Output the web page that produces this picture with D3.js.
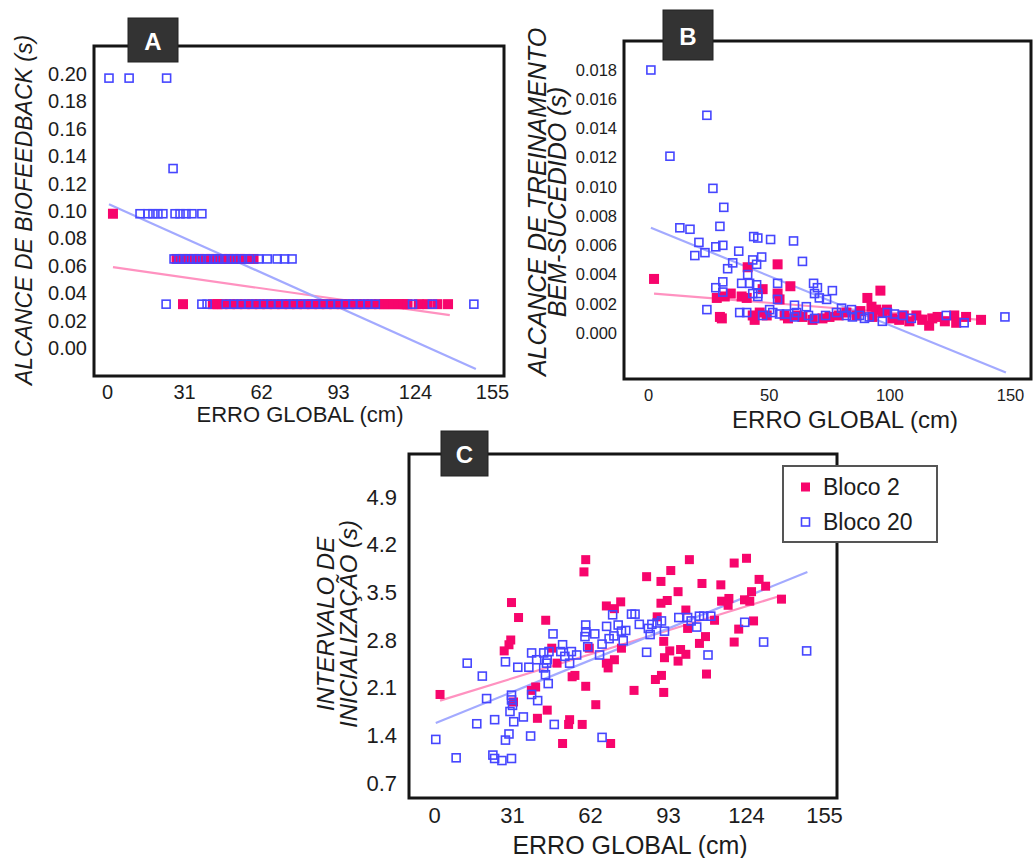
<!DOCTYPE html>
<html>
<head>
<meta charset="utf-8">
<script src="https://cdn.jsdelivr.net/npm/d3@7"></script>
<style>
  body { margin: 0; background: #fff; }
  svg { display: block; font-family: "Liberation Sans", Arial, sans-serif; }
</style>
</head>
<body>
<svg id="chart" width="1034" height="858"></svg>
<script>
// ---- Data ----

// Panel A: values fall on five discrete levels
const A_LEVELS = [0.197, 0.131, 0.098, 0.065, 0.032];
const A_BLOCO2_X = [
  [],
  [],
  [2.4],
  [28, 30.5, 32.5, 35, 37, 39.5, 42, 44, 46.5, 49, 51, 53.5, 55.5, 59],
  [30.6, 42.6, 44.5, 46.5, 49.5, 52.5, 55.5, 58.5, 61.5, 64.5, 67.5, 70.5, 73.5, 76.5, 79.5, 82.5,
   85.5, 88.5, 91.5, 94.5, 97.5, 100.5, 103.5, 106.5, 109.5, 111.5, 113.5, 115.5, 117.5, 119.5, 121,
   125.5, 129, 133, 137.3]
];
const A_BLOCO20_X = [
  [0.8, 8.9, 24],
  [26.6],
  [13.3, 16.5, 18.5, 20.5, 22.5, 27.4, 29.4, 31.8, 34.2, 38.2],
  [27, 29, 31.5, 33.5, 36, 38, 40.5, 43, 45, 47.5, 50, 52, 54.5, 57, 61, 64.5, 68.5, 71.5, 74.5],
  [23.8, 38.2, 40.3, 48, 51, 54, 57, 60, 63, 66, 69, 72, 75, 78, 81, 84, 87, 90, 93, 96, 99, 102,
   105, 108, 123, 131, 147.7]
];
const A_FIT_BLOCO2 = [[2.4, 0.059], [138, 0.024]];
const A_FIT_BLOCO20 = [[0.8, 0.105], [148.5, -0.0153]];
const A_X_TICKS = [0, 31, 62, 93, 124, 155];
const A_Y_TICKS = [0, 0.02, 0.04, 0.06, 0.08, 0.10, 0.12, 0.14, 0.16, 0.18, 0.20];

// Panel B
const B_BLOCO2 = [
  [2.5, 0.0037], [30.6, 0.0010], [41.3, 0.0045], [53.7, 0.0047], [59.0, 0.0032], [28.5, 0.0024],
  [31.8, 0.0025], [34.3, 0.0027], [38.8, 0.0025], [40.9, 0.0024], [47.5, 0.0030], [53.7, 0.0027],
  [54.5, 0.0023], [44.2, 0.0009], [43.4, 0.0012], [46.3, 0.0014], [49.2, 0.0012], [56.6, 0.0012],
  [64.0, 0.0011], [68.2, 0.0009], [72.3, 0.0010], [75.2, 0.0011], [90.9, 0.0024], [96.3, 0.0029],
  [92.6, 0.0018], [94.6, 0.0016], [97.1, 0.0014], [101.2, 0.0010], [104.1, 0.0009], [108.3, 0.0008],
  [111.2, 0.0012], [113.6, 0.0009], [116.5, 0.0005], [117.8, 0.0010], [126.9, 0.0012], [127.7, 0.0007],
  [131.8, 0.0011], [138.0, 0.0009], [93.0, 0.0011], [86.4, 0.0012], [82.2, 0.0014], [29.8, 0.0011],
  [58.0, 0.0010], [62.0, 0.0012], [79.0, 0.0012], [88.0, 0.0015], [99.0, 0.0016], [106.0, 0.0012],
  [120.0, 0.0011], [123.0, 0.0008]
];
const B_BLOCO20 = [
  [1.2, 0.0180], [24.4, 0.0149], [9.1, 0.0121], [26.9, 0.0099], [31.4, 0.0086], [29.8, 0.0073],
  [13.2, 0.0072], [17.4, 0.0071], [21.1, 0.0062], [28.1, 0.0059], [31.0, 0.0060], [19.4, 0.0053],
  [23.6, 0.0055], [37.6, 0.0056], [35.1, 0.0048], [33.0, 0.0044], [43.8, 0.0066], [45.5, 0.0065],
  [50.8, 0.0064], [60.3, 0.0063], [64.0, 0.0049], [47.1, 0.0052], [43.4, 0.0050], [45.0, 0.0047],
  [41.3, 0.0040], [38.8, 0.0034], [42.1, 0.0034], [45.0, 0.0033], [31.0, 0.0035], [28.1, 0.0031],
  [31.0, 0.0028], [43.4, 0.0027], [45.5, 0.0027], [45.5, 0.0025], [53.7, 0.0034], [53.7, 0.0023],
  [68.6, 0.0034], [70.2, 0.0031], [76.4, 0.0029], [69.0, 0.0027], [71.0, 0.0024], [74.0, 0.0023],
  [24.4, 0.0016], [38.0, 0.0014], [40.9, 0.0014], [47.5, 0.0012], [50.4, 0.0016], [51.7, 0.0014],
  [54.5, 0.0013], [57.4, 0.0013], [60.7, 0.0019], [61.6, 0.0014], [60.7, 0.0011], [65.6, 0.0018],
  [66.5, 0.0012], [69.0, 0.0010], [73.6, 0.0012], [78.1, 0.0014], [80.2, 0.0017], [82.2, 0.0012],
  [84.3, 0.0016], [84.7, 0.0011], [87.6, 0.0012], [89.7, 0.0010], [91.7, 0.0011], [97.1, 0.0008],
  [99.2, 0.0014], [102.1, 0.0013], [105.4, 0.0012], [109.1, 0.0010], [123.6, 0.0012], [131.0, 0.0007],
  [147.9, 0.0011]
];
const B_FIT_BLOCO2 = [[2.5, 0.0027], [138, 0.0009]];
const B_FIT_BLOCO20 = [[1.2, 0.0072], [148.3, -0.0027]];
const B_X_TICKS = [0, 50, 100, 150];
const B_Y_TICKS = [0, 0.002, 0.004, 0.006, 0.008, 0.010, 0.012, 0.014, 0.016, 0.018];

// Panel C
const C_BLOCO2 = [
  [2.4, 2.00], [60.3, 3.98], [59.6, 3.80], [30.8, 3.35], [33.6, 3.13], [30.5, 2.80], [29.8, 2.73],
  [27.9, 2.64], [44.4, 3.09], [31.6, 1.89], [40.4, 2.11], [38.7, 2.06], [41.1, 1.65], [45.0, 1.77],
  [51.1, 1.28], [53.9, 1.63], [53.5, 1.56], [58.9, 1.56], [54.9, 2.26], [56.0, 2.28], [60.3, 2.12],
  [64.3, 1.85], [70.2, 1.28], [48.9, 2.46], [46.8, 2.68], [61.7, 2.68], [68.5, 3.30], [71.7, 3.26],
  [74.2, 3.36], [68.5, 2.46], [69.2, 2.39], [71.7, 2.51], [74.5, 2.68], [79.5, 2.06], [84.5, 3.73],
  [90.2, 3.66], [94.1, 3.82], [101.5, 3.98], [97.0, 3.51], [90.2, 3.34], [92.7, 3.38], [88.7, 3.14],
  [88.0, 2.22], [90.4, 2.28], [91.3, 2.03], [91.3, 2.78], [91.6, 2.54], [93.7, 2.64], [97.0, 2.49],
  [98.0, 2.66], [100.1, 2.59], [100.8, 2.97], [100.1, 3.24], [106.5, 3.63], [105.5, 2.75], [107.9, 2.85],
  [108.3, 2.30], [111.5, 3.09], [114.0, 3.61], [114.3, 3.37], [117.2, 3.41], [116.9, 3.31], [119.3, 3.93],
  [124.2, 4.00], [119.3, 2.77], [121.1, 2.96], [127.0, 3.08], [129.2, 3.69], [126.2, 3.51], [123.4, 3.39],
  [125.5, 3.37], [131.8, 3.59], [138.1, 3.40]
];
const C_BLOCO20 = [
  [0.7, 1.34], [8.8, 1.07], [13.2, 2.46], [19.2, 2.27], [20.9, 1.94], [17.0, 1.57], [24.1, 1.63],
  [23.4, 1.11], [24.1, 1.06], [27.0, 1.03], [30.8, 1.06], [28.4, 1.33], [29.8, 1.42], [28.4, 2.48],
  [33.3, 2.40], [30.8, 1.99], [30.8, 1.92], [31.2, 1.84], [30.2, 1.75], [31.7, 1.60], [35.5, 1.67],
  [38.4, 1.39], [37.7, 2.40], [38.8, 2.61], [40.8, 2.51], [41.2, 1.91], [38.8, 2.00], [43.6, 2.61],
  [45.0, 2.51], [43.6, 2.39], [44.3, 2.29], [45.4, 2.16], [44.7, 2.46], [45.7, 2.63], [47.3, 2.89],
  [47.8, 1.56], [50.4, 2.63], [51.1, 2.73], [52.0, 2.56], [53.9, 2.46], [54.6, 2.63], [56.7, 2.58],
  [60.3, 3.02], [60.3, 2.92], [60.0, 2.85], [61.1, 2.70], [63.9, 2.89], [65.8, 2.58], [66.8, 2.74],
  [66.8, 1.37], [68.6, 3.00], [71.0, 3.17], [69.6, 2.82], [71.5, 2.86], [73.2, 3.02], [74.5, 2.93],
  [76.2, 2.94], [75.2, 2.79], [78.5, 3.18], [79.9, 3.18], [81.6, 3.03], [84.5, 2.62], [85.2, 2.97],
  [86.6, 3.03], [85.9, 2.88], [88.7, 3.05], [90.4, 3.08], [91.6, 2.93], [97.3, 3.13], [100.8, 3.13],
  [102.2, 3.08], [104.4, 2.99], [105.5, 3.15], [107.2, 3.15], [110.0, 3.15], [108.9, 2.58], [123.5, 3.06],
  [131.0, 2.77], [148.1, 2.64]
];
const C_FIT_BLOCO2 = [[2.4, 1.91], [137.8, 3.45]];
const C_FIT_BLOCO20 = [[0.7, 1.58], [148.4, 3.80]];
const C_X_TICKS = [0, 31, 62, 93, 124, 155];
const C_Y_TICKS = [0.7, 1.4, 2.1, 2.8, 3.5, 4.2, 4.9];

const SERIES = ['Bloco 2', 'Bloco 20'];

// ---- Style ----
const PINK = '#f7056c';
const BLUE = '#4646ff';
const PINK_LINE = '#ff92c0';
const BLUE_LINE = '#a3aaff';
const INK = '#1c1c1c';

const svg = d3.select('#chart');

// Panel A points are stored per level; expand them into [x, y] pairs
const aPoints = xs => xs.flatMap((row, i) => row.map(x => [x, A_LEVELS[i]]));

const PANELS = [
  {
    letter: 'A',
    frame: { x0: 94, y0: 46, x1: 504, y1: 376 },
    badge: { x: 128, y: 18, w: 50, h: 44 },
    x: { domain: [0, 155], range: [107, 492], ticks: A_X_TICKS, fmt: d3.format('d'), size: 20, pad: 9 },
    y: { domain: [0, 0.20], range: [348, 74], ticks: A_Y_TICKS, fmt: d3.format('.2f'), size: 20, pad: 7 },
    bloco2: aPoints(A_BLOCO2_X),
    bloco20: aPoints(A_BLOCO20_X),
    fit2: A_FIT_BLOCO2,
    fit20: A_FIT_BLOCO20,
    marker: { pink: 10, blue: 8 },
    xTitle: { text: 'ERRO GLOBAL (cm)', x: 300, y: 414, size: 22 },
    yTitle: { lines: ['ALCANCE DE BIOFEEDBACK (s)'], xs: [24], y: 210, size: 23 }
  },
  {
    letter: 'B',
    frame: { x0: 624, y0: 41, x1: 1031, y1: 379 },
    badge: { x: 663, y: 10, w: 50, h: 50 },
    x: { domain: [0, 150], range: [648, 1010], ticks: B_X_TICKS, fmt: d3.format('d'), size: 16.5, pad: 10 },
    y: { domain: [0, 0.018], range: [333, 70], ticks: B_Y_TICKS, fmt: d3.format('.3f'), size: 16.5, pad: 7 },
    bloco2: B_BLOCO2,
    bloco20: B_BLOCO20,
    fit2: B_FIT_BLOCO2,
    fit20: B_FIT_BLOCO20,
    marker: { pink: 10, blue: 8 },
    xTitle: { text: 'ERRO GLOBAL (cm)', x: 845, y: 419, size: 24 },
    yTitle: { lines: ['ALCANCE DE TREINAMENTO', 'BEM-SUCEDIDO (s)'], xs: [537, 557], y: 202, size: 25 }
  },
  {
    letter: 'C',
    frame: { x0: 409, y0: 454, x1: 837, y1: 798 },
    badge: { x: 441, y: 431, w: 47, h: 45 },
    x: { domain: [0, 155], range: [434, 824], ticks: C_X_TICKS, fmt: d3.format('d'), size: 22, pad: 9 },
    y: { domain: [0.7, 4.9], range: [783, 497], ticks: C_Y_TICKS, fmt: d3.format('.1f'), size: 22, pad: 12 },
    bloco2: C_BLOCO2,
    bloco20: C_BLOCO20,
    fit2: C_FIT_BLOCO2,
    fit20: C_FIT_BLOCO20,
    marker: { pink: 9, blue: 8 },
    xTitle: { text: 'ERRO GLOBAL (cm)', x: 630, y: 845, size: 25 },
    yTitle: { lines: ['INTERVALO DE', 'INICIALIZAÇÃO (s)'], xs: [325, 348], y: 624, size: 24 }
  }
];

function drawPanel(p) {
  const g = svg.append('g').attr('class', 'panel-' + p.letter);
  const x = d3.scaleLinear().domain(p.x.domain).range(p.x.range);
  const y = d3.scaleLinear().domain(p.y.domain).range(p.y.range);

  // Fit lines (under the markers)
  const line = d3.line().x(d => x(d[0])).y(d => y(d[1]));
  g.append('path').attr('d', line(p.fit2))
    .attr('fill', 'none').attr('stroke', PINK_LINE).attr('stroke-width', 2.2);
  g.append('path').attr('d', line(p.fit20))
    .attr('fill', 'none').attr('stroke', BLUE_LINE).attr('stroke-width', 2.2);

  // Bloco 2: filled pink squares
  const s2 = p.marker.pink;
  g.append('g').selectAll('rect').data(p.bloco2).join('rect')
    .attr('x', d => x(d[0]) - s2 / 2)
    .attr('y', d => y(d[1]) - s2 / 2)
    .attr('width', s2).attr('height', s2)
    .attr('fill', PINK);

  // Bloco 20: hollow blue squares
  const s20 = p.marker.blue;
  g.append('g').selectAll('rect').data(p.bloco20).join('rect')
    .attr('x', d => x(d[0]) - s20 / 2)
    .attr('y', d => y(d[1]) - s20 / 2)
    .attr('width', s20).attr('height', s20)
    .attr('fill', 'none').attr('stroke', BLUE).attr('stroke-width', 1.6);

  // Frame
  const f = p.frame;
  g.append('rect')
    .attr('x', f.x0).attr('y', f.y0)
    .attr('width', f.x1 - f.x0).attr('height', f.y1 - f.y0)
    .attr('fill', 'none').attr('stroke', '#151515').attr('stroke-width', 3);

  // Axes (labels only, no tick lines)
  const xAxis = g.append('g')
    .attr('transform', `translate(0,${f.y1})`)
    .call(d3.axisBottom(x).tickValues(p.x.ticks).tickFormat(p.x.fmt).tickSize(0).tickPadding(p.x.pad));
  xAxis.select('.domain').remove();
  xAxis.selectAll('text')
    .style('font-family', '"Liberation Sans", Arial, sans-serif')
    .style('font-size', p.x.size + 'px').attr('fill', INK);

  const yAxis = g.append('g')
    .attr('transform', `translate(${f.x0},0)`)
    .call(d3.axisLeft(y).tickValues(p.y.ticks).tickFormat(p.y.fmt).tickSize(0).tickPadding(p.y.pad));
  yAxis.select('.domain').remove();
  yAxis.selectAll('text')
    .style('font-family', '"Liberation Sans", Arial, sans-serif')
    .style('font-size', p.y.size + 'px').attr('fill', INK);

  // Titles
  g.append('text')
    .attr('x', p.xTitle.x).attr('y', p.xTitle.y)
    .attr('text-anchor', 'middle').attr('dominant-baseline', 'central')
    .attr('font-size', p.xTitle.size).attr('fill', INK)
    .text(p.xTitle.text);

  p.yTitle.lines.forEach((txt, i) => {
    const tx = p.yTitle.xs[i];
    g.append('text')
      .attr('x', tx).attr('y', p.yTitle.y)
      .attr('transform', `rotate(-90,${tx},${p.yTitle.y})`)
      .attr('text-anchor', 'middle').attr('dominant-baseline', 'central')
      .attr('font-size', p.yTitle.size).attr('font-style', 'italic').attr('fill', INK)
      .text(txt);
  });

  // Panel letter badge
  const b = p.badge;
  g.append('rect')
    .attr('x', b.x).attr('y', b.y).attr('width', b.w).attr('height', b.h)
    .attr('fill', '#333').attr('stroke', '#222').attr('stroke-width', 1);
  g.append('text')
    .attr('x', b.x + b.w / 2).attr('y', b.y + b.h / 2 + 1)
    .attr('text-anchor', 'middle').attr('dominant-baseline', 'central')
    .attr('font-size', 24).attr('font-weight', 'bold').attr('fill', '#fff')
    .text(p.letter);
}

PANELS.forEach(drawPanel);

// Legend (panel C)
const legend = svg.append('g').attr('class', 'legend');
legend.append('rect')
  .attr('x', 783).attr('y', 466).attr('width', 154).attr('height', 76)
  .attr('fill', '#fff').attr('stroke', '#555').attr('stroke-width', 2);
SERIES.forEach((name, i) => {
  const cy = 487 + i * 35;
  if (i === 0) {
    legend.append('rect').attr('x', 801).attr('y', cy - 4.5).attr('width', 9).attr('height', 9)
      .attr('fill', PINK);
  } else {
    legend.append('rect').attr('x', 801.5).attr('y', cy - 4).attr('width', 8).attr('height', 8)
      .attr('fill', 'none').attr('stroke', BLUE).attr('stroke-width', 1.6);
  }
  legend.append('text')
    .attr('x', 823).attr('y', cy)
    .attr('dominant-baseline', 'central')
    .attr('font-size', 23).attr('fill', INK)
    .text(name);
});
</script>
</body>
</html>
